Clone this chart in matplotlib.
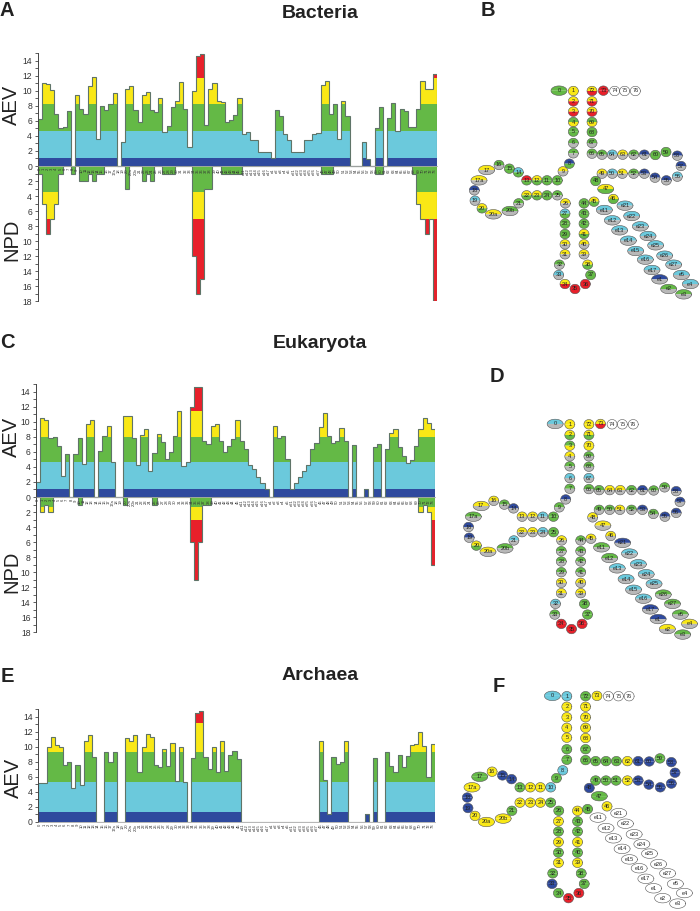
import numpy as np
import matplotlib
matplotlib.use("Agg")
import matplotlib.pyplot as plt

plt.rcParams['font.family'] = ['Liberation Sans', 'DejaVu Sans']

W, H = 700, 911

# position names, one for each column of the bar charts
positions = [str(i) for i in range(18)] + ['17a', '18', '19', '20', '20a', '20b']
positions += [str(i) for i in range(21, 46)]
positions += ['e11', 'e12', 'e13', 'e14', 'e15', 'e16', 'e17', 'e1', 'e2', 'e3', 'e4', 'e5']
positions += ['e21', 'e22', 'e23', 'e24', 'e25', 'e26', 'e27']
positions += [str(i) for i in range(46, 74)]

bacteria_aev = [6.2, 11.1, 10.9, 10.1, 6.9, 5.0, 5.2, 7.3, 0, 9.5, 7.6, 6.9, 10.6, 11.9, 3.6, 8.0,
                7.4, 8.2, 9.7, 0, 3.2, 10.3, 10.6, 7.4, 5.8, 9.5, 9.8, 7.4, 7.2, 9.0, 4.5, 5.3,
                7.8, 8.6, 11.2, 7.6, 2.5, 10.0, 14.6, 14.9, 5.5, 10.2, 11.0, 8.6, 8.5, 5.8, 6.1, 6.8,
                9.0, 4.3, 4.5, 3.45, 3.45, 1.8, 1.8, 1.8, 1.0, 7.4, 6.6, 4.3, 3.4, 1.8, 1.8, 1.8,
                3.5, 3.4, 4.3, 4.4, 10.8, 11.3, 6.9, 8.3, 3.6, 8.6, 6.7, 0, 0, 0, 3.2, 0.9,
                0, 5.1, 7.8, 0, 6.4, 8.4, 4.6, 7.6, 7.3, 5.2, 5.2, 7.6, 11.3, 10.3, 10.2, 12.2]
bacteria_npd = [1, 5, 9, 7, 5, 1, 0, 0, 1, 0, 2, 2, 1, 2, 1, 1,
                0, 0, 0, 0, 0, 3, 0, 0, 0, 2, 1, 2, 0, 0, 1, 1,
                1, 0, 0, 0, 0, 12, 17, 15, 3, 3, 0, 0, 1, 1, 1, 1,
                1, 0, 0, 0, 0, 0, 0, 0, 0, 0, 0, 0, 0, 0, 0, 0,
                0, 0, 0, 0, 1, 1, 1, 0, 0, 0, 0, 0, 0, 0, 0, 0,
                0, 1, 1, 0, 0, 0, 0, 0, 0, 0, 1, 5, 7, 9, 7, 18]
bacteria_aev_bands = [1.13, 4.65, 8.2, 11.7]
bacteria_npd_bands = [3.4, 7.0]

eukaryota_aev = [2.0, 10.5, 10.3, 7.9, 8.0, 6.8, 2.75, 5.7, 0, 5.7, 7.85, 4.35, 9.7, 10.3, 0, 6.1,
                 8.1, 9.5, 4.7, 0, 0, 10.8, 10.8, 7.8, 4.2, 8.3, 9.0, 3.5, 5.8, 8.4, 7.3, 5.1,
                 6.0, 8.1, 11.4, 4.1, 4.6, 12.0, 14.6, 14.6, 7.4, 7.1, 9.4, 9.7, 7.4, 6.0, 6.8, 7.7,
                 10.2, 7.5, 6.4, 4.3, 3.7, 2.7, 1.8, 1.0, 0, 9.5, 7.9, 8.15, 5.0, 1.0, 1.8, 2.6,
                 3.5, 4.3, 6.4, 7.2, 9.3, 11.2, 8.1, 7.2, 7.4, 9.2, 7.4, 0, 6.9, 0, 0, 1.0,
                 0, 6.65, 7.1, 0, 6.4, 8.45, 9.0, 6.6, 5.4, 4.5, 4.9, 6.8, 9.1, 10.5, 9.8, 9.1]
eukaryota_npd = [0, 2, 1, 2, 0, 0, 0, 0, 0, 0, 1, 0, 0, 0, 0, 0,
                 0, 0, 0, 0, 0, 1, 0, 0, 0, 0, 0, 0, 1, 0, 0, 0,
                 0, 0, 0, 0, 0, 6, 11, 6, 1, 1, 0, 0, 0, 0, 0, 0,
                 0, 0, 0, 0, 0, 0, 0, 0, 0, 0, 0, 0, 0, 0, 0, 0,
                 0, 0, 0, 0, 0, 0, 0, 0, 0, 0, 0, 0, 0, 0, 0, 0,
                 0, 0, 0, 0, 0, 0, 0, 0, 0, 0, 0, 0, 2, 1, 2, 9]
eukaryota_aev_bands = [1.05, 4.6, 8.0, 11.5]
eukaryota_npd_bands = [1.3, 3.1]

archaea_aev = [5.1, 5.15, 10.0, 11.25, 10.2, 9.9, 7.5, 8.0, 4.45, 7.5, 4.85, 10.7, 11.6, 8.6, 0, 0,
               9.35, 8.0, 9.25, 0, 0, 11.2, 10.7, 11.5, 6.6, 9.9, 11.7, 11.25, 7.5, 7.25, 9.7, 7.4,
               10.45, 5.4, 10.0, 5.3, 0, 8.45, 14.55, 14.75, 8.6, 7.0, 10.0, 6.6, 10.7, 6.75, 8.85, 9.4,
               8.3, 0, 0, 0, 0, 0, 0, 0, 0, 0, 0, 0, 0, 0, 0, 0,
               0, 0, 0, 0, 10.8, 5.55, 1.0, 8.6, 7.65, 8.0, 10.8, 0, 0, 0, 0, 1.0,
               0, 8.45, 0, 0, 9.35, 7.4, 6.6, 8.85, 7.25, 8.75, 10.2, 10.35, 12.0, 10.1, 5.9, 10.3]
archaea_aev_bands = [1.35, 5.3, 9.25, 13.2]

band_colors = ['#2f4a9e', '#6bc9dc', '#64b946', '#f9e816', '#e8202a']
npd_colors = ['#64b946', '#f9e816', '#e8202a']
node_grey = '#b8b8b8'
outline = '#5f7468'

# tRNA diagram layout, in pixels of panel B
layout = {
    '0': (267, 62), '1': (310, 63), '2': (310, 94), '3': (310, 125), '4': (310, 156), '5': (310, 185),
    '6': (310, 219), '7': (310, 250), '8': (298, 281), '9': (279, 304), '10': (262, 331), '11': (231, 331),
    '12': (201, 331), '13': (170, 331), '14': (145, 307), '15': (118, 296), '16': (87, 285), '17': (50, 300),
    '17a': (27, 331), '18': (13, 361), '19': (15, 392), '20': (36, 415), '20a': (70, 433), '20b': (120, 423),
    '21': (146, 400), '22': (170, 376), '23': (201, 376), '24': (231, 376), '25': (262, 376), '26': (286, 400),
    '27': (285, 431), '28': (285, 461), '29': (285, 492), '30': (285, 523), '31': (285, 553), '32': (268, 584),
    '33': (266, 615), '34': (285, 642), '35': (315, 657), '36': (346, 642), '37': (362, 615), '38': (353, 584),
    '39': (342, 553), '40': (342, 523), '41': (342, 492), '42': (342, 461), '43': (342, 431), '44': (342, 400),
    '45': (372, 395), '46': (430, 387), '47': (407, 357), '48': (377, 333), '49': (396, 311), '50': (427, 311),
    '51': (457, 311), '52': (491, 311), '53': (523, 311), '54': (555, 323), '55': (589, 331), '56': (622, 320),
    '57': (633, 288), '58': (622, 257), '59': (588, 246), '60': (556, 255), '61': (523, 254), '62': (491, 254),
    '63': (458, 254), '64': (427, 254), '65': (396, 254), '66': (366, 251), '67': (366, 219), '68': (366, 186),
    '69': (366, 156), '70': (366, 125), '71': (366, 94), '72': (366, 63), '73': (400, 62), '74': (434, 63),
    '75': (464, 63), '76': (496, 63),
    'e11': (403, 420), 'e12': (427, 451), 'e13': (449, 481), 'e14': (475, 512), 'e15': (497, 543),
    'e16': (526, 569), 'e17': (546, 600), 'e1': (569, 628), 'e2': (596, 657), 'e3': (641, 673),
    'e4': (661, 642), 'e5': (634, 615), 'e27': (611, 584), 'e26': (584, 557), 'e25': (557, 526),
    'e24': (534, 498), 'e23': (511, 469), 'e22': (485, 438), 'e21': (465, 407),
}
wide_nodes = ['0', '17', '17a', '20a', '20b', '47']


def aev_color(v, bands):
    for b, c in zip(bands, band_colors):
        if v < b:
            return c
    return band_colors[-1]


def npd_color(n, bands):
    if n == 0:
        return node_grey
    for b, c in zip(bands, npd_colors):
        if n < b:
            return c
    return npd_colors[-1]


def bar_axes(left, right, top, bottom, ylim, aev, aev_bands, npd=None, npd_bands=None):
    ax = fig.add_axes([left / W, 1 - bottom / H, (right - left) / W, (bottom - top) / H])
    edges = np.arange(len(aev) + 1)
    aev = np.array(aev, dtype=float)
    lows = [0] + aev_bands
    highs = aev_bands + [20]
    for lo, hi, c in zip(lows, highs, band_colors):
        ax.stairs(np.clip(aev, lo, hi), edges, baseline=lo, fill=True, color=c, lw=0)
    ax.stairs(aev, edges, baseline=0, color=outline, lw=0.8)
    if npd is not None:
        npd = np.array(npd, dtype=float)
        lows = [0] + npd_bands
        highs = npd_bands + [20]
        for lo, hi, c in zip(lows, highs, npd_colors):
            ax.stairs(-np.clip(npd, lo, hi), edges, baseline=-lo, fill=True, color=c, lw=0)
        ax.stairs(-npd, edges, baseline=0, color=outline, lw=0.8)
    ax.set_xlim(0, len(aev))
    ax.set_ylim(*ylim)
    ax.patch.set_alpha(0)
    for s in ['top', 'right']:
        ax.spines[s].set_visible(False)
    ax.spines['bottom'].set_position(('data', 0))
    ax.spines['bottom'].set_color('#aaaaaa')
    ax.spines['bottom'].set_linewidth(0.6)
    ax.spines['left'].set_color('#444444')
    ax.spines['left'].set_linewidth(0.7)
    ax.set_xticks(edges[:-1] + 0.5)
    ax.set_xticklabels(positions, rotation=90, fontsize=3, color='#333333')
    ax.tick_params(axis='x', length=0, pad=1.6)
    ticks = np.arange(np.ceil(ylim[0] / 2) * 2, ylim[1] + 0.1, 2)
    ax.set_yticks(ticks)
    ax.set_yticklabels(['%d' % abs(t) for t in ticks], fontsize=6.2, color='#333333')
    ax.set_yticks(np.arange(ylim[0], ylim[1] + 0.1), minor=True)
    ax.tick_params(axis='y', which='both', length=2, width=0.6, color='#444444', pad=2)
    ax.set_axisbelow(False)
    return ax


def draw_tree(ax, aev, aev_bands, npd, npd_bands, x0, sx, y0, sy, ref_y):
    values = dict(zip(positions, aev))
    losses = dict(zip(positions, npd)) if npd is not None else {}
    for name, (zx, zy) in layout.items():
        bx = 470 + zx / 3
        by = 70 + zy / 3
        x = x0 + sx * (bx - 479)
        y = y0 + sy * (by - ref_y)
        w = 16 if name in wide_nodes or name.startswith('e') else 10
        h = 9.5
        if name in values and not (npd is None and name.startswith('e')):
            top = aev_color(values[name], aev_bands)
            bot = npd_color(losses[name], npd_bands) if npd is not None else top
        else:
            top = bot = 'white'
        t = np.linspace(0, np.pi, 30)
        ax.fill(x + w / 2 * np.cos(t), y - h / 2 * np.sin(t), color=top, lw=0, zorder=3)
        ax.fill(x + w / 2 * np.cos(t), y + h / 2 * np.sin(t), color=bot, lw=0, zorder=3)
        t = np.linspace(0, 2 * np.pi, 60)
        ax.plot(x + w / 2 * np.cos(t), y + h / 2 * np.sin(t), color='#555555', lw=0.4, zorder=4)
        ax.text(x, y, name, fontsize=4, color='#222222', ha='center', va='center', zorder=5)


fig = plt.figure(figsize=(W / 100, H / 100), dpi=100)

bar_axes(37.7, 437, 53.2, 301.4, (-18, 15), bacteria_aev, bacteria_aev_bands, bacteria_npd, bacteria_npd_bands)
bar_axes(36, 435, 384.2, 632.4, (-18, 15), eukaryota_aev, eukaryota_aev_bands, eukaryota_npd, eukaryota_npd_bands)
bar_axes(38.3, 434.7, 709.2, 821.7, (0, 15), archaea_aev, archaea_aev_bands)

over = fig.add_axes([0, 0, 1, 1], zorder=5)
over.set_xlim(0, W)
over.set_ylim(H, 0)
over.axis('off')

draw_tree(over, bacteria_aev, bacteria_aev_bands, bacteria_npd, bacteria_npd_bands, 479, 1.0, 91, 1.0, 91)
draw_tree(over, eukaryota_aev, eukaryota_aev_bands, eukaryota_npd, eukaryota_npd_bands, 473.3, 1.023, 424.3, 1.034, 91)
draw_tree(over, archaea_aev, archaea_aev_bands, None, None, 472, 1.005, 706.7, 1.02, 101.3)

for txt, x, y in [('Bacteria', 320, 13), ('Eukaryota', 320, 344), ('Archaea', 320, 676)]:
    over.text(x, y, txt, fontsize=14, fontweight='bold', color='#222222', ha='center', va='center')
for txt, x, y in [('A', 7, 10), ('B', 488, 10), ('C', 7, 342), ('D', 497, 376), ('E', 7, 676), ('F', 499, 686)]:
    over.text(x, y, txt, fontsize=14.5, fontweight='bold', color='#222222', ha='center', va='center')
for txt, x, y in [('AEV', 11.5, 105), ('NPD', 11.5, 240), ('AEV', 11.5, 437), ('NPD', 11.5, 572), ('AEV', 13.5, 778)]:
    over.text(x, y, txt, fontsize=14.5, rotation=90, color='#222222', ha='center', va='center')

fig.savefig('out.png', dpi=100)
